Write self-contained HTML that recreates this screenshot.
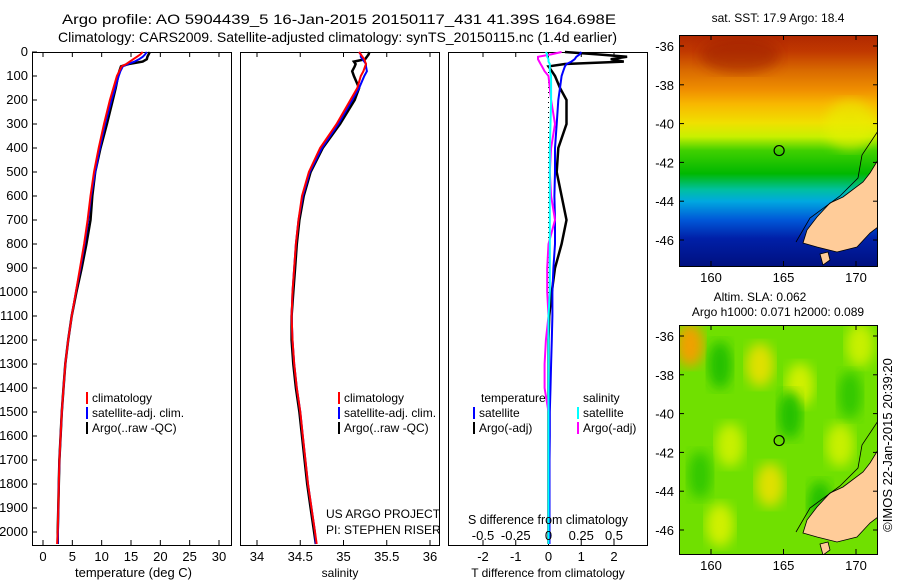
<!DOCTYPE html>
<html><head><meta charset="utf-8">
<style>
html,body{margin:0;padding:0;background:#fff;width:900px;height:580px;overflow:hidden}
svg{display:block;font-family:"Liberation Sans",sans-serif;font-size:12px}
</style></head>
<body>
<svg id="c" width="900" height="580" xmlns="http://www.w3.org/2000/svg">
<defs>
<linearGradient id="sst" x1="0" y1="0" x2="0" y2="1">
<stop offset="0" stop-color="#b02800"/><stop offset="0.07" stop-color="#c03800"/>
<stop offset="0.15" stop-color="#d86800"/><stop offset="0.24" stop-color="#f09000"/>
<stop offset="0.3" stop-color="#f8b800"/><stop offset="0.38" stop-color="#f0e000"/>
<stop offset="0.44" stop-color="#c8f000"/><stop offset="0.5" stop-color="#40d000"/>
<stop offset="0.6" stop-color="#00b800"/><stop offset="0.67" stop-color="#00c0a0"/>
<stop offset="0.72" stop-color="#00a8e0"/><stop offset="0.8" stop-color="#0058d8"/>
<stop offset="0.88" stop-color="#0020a8"/><stop offset="1" stop-color="#001080"/>
</linearGradient>
<filter id="blur"><feGaussianBlur stdDeviation="6"/></filter>
<clipPath id="clipTop"><rect x="679" y="35" width="199" height="231"/></clipPath>
<clipPath id="clipBot"><rect x="679" y="325" width="199" height="229"/></clipPath>
</defs>
<text x="62" y="24" textLength="554" lengthAdjust="spacingAndGlyphs" font-size="14">Argo profile: AO 5904439_5 16-Jan-2015 20150117_431 41.39S 164.698E</text>
<text x="58" y="42" textLength="559" lengthAdjust="spacingAndGlyphs" font-size="14">Climatology: CARS2009. Satellite-adjusted climatology: synTS_20150115.nc (1.4d earlier)</text>
<g id="panels"></g>
</svg>
<script>
// depth levels (m)
const depths = [0,10,20,30,40,50,60,80,100,150,200,300,400,500,600,700,800,900,1000,1100,1200,1300,1400,1500,1600,1700,1800,1900,2000,2050];
// temperature (deg C)
const tempClim = [17.0,16.6,16.0,15.4,14.8,14.2,13.4,13.0,12.6,12.0,11.4,10.4,9.5,8.7,8.1,7.6,7.0,6.3,5.6,4.9,4.3,3.8,3.5,3.2,3.0,2.8,2.7,2.6,2.5,2.4];
const tempSat  = [17.7,17.4,17.0,16.4,15.6,14.5,13.6,13.2,12.9,12.3,11.7,10.6,9.7,8.9,8.2,7.7,7.1,6.4,5.6,4.9,4.3,3.8,3.5,3.2,3.0,2.8,2.7,2.6,2.55,2.5];
const tempArgo = [18.2,18.0,17.8,17.7,17.0,14.6,13.3,13.0,12.8,12.4,11.9,10.9,9.8,8.9,8.4,8.1,7.4,6.6,5.7,4.9,4.3,3.8,3.5,3.2,3.0,2.8,2.7,2.6,2.5,2.5];
// salinity
const salClim = [35.18,35.2,35.22,35.24,35.25,35.26,35.25,35.23,35.2,35.16,35.08,34.92,34.73,34.6,34.52,34.48,34.45,34.43,34.41,34.4,34.41,34.43,34.46,34.5,34.53,34.56,34.59,34.63,34.67,34.69];
const salSat  = [35.18,35.2,35.2,35.22,35.24,35.26,35.26,35.27,35.24,35.18,35.1,34.94,34.75,34.61,34.53,34.48,34.45,34.43,34.41,34.4,34.41,34.43,34.46,34.5,34.53,34.56,34.59,34.63,34.67,34.68];
const salArgo = [35.3,35.29,35.27,35.25,35.12,35.14,35.13,35.1,35.12,35.18,35.13,34.96,34.76,34.62,34.54,34.49,34.46,34.44,34.42,34.4,34.4,34.42,34.45,34.49,34.52,34.55,34.58,34.62,34.66,34.68];
// temperature differences (deg C)
const tdiffSat  = [1.0,0.95,0.85,0.8,0.7,0.55,0.5,0.45,0.4,0.35,0.3,0.25,0.2,0.2,0.18,0.2,0.2,0.15,0.12,0.12,0.1,0.08,0.06,0.04,0.04,0.03,0.03,0.03,0.03,0.03];
const tdiffArgo = [0.5,1.5,2.4,1.9,2.3,0.5,0.0,0.1,0.2,0.35,0.55,0.55,0.3,0.25,0.4,0.55,0.4,0.2,0.1,0.02,0.0,0.0,0.0,0.0,0.0,0.0,0.0,0.0,0.0,0.0];
// salinity differences
const sdiffSat  = [-0.02,-0.01,-0.01,0.0,0.0,0.01,0.01,0.01,0.02,0.02,0.02,0.015,0.01,0.01,0.01,0.01,0.01,0.01,0.01,0.0,0.0,0.0,0.0,0.0,0.0,0.0,0.0,0.0,0.0,0.0];
const sdiffArgo = [0.1,0.02,-0.08,-0.08,-0.07,-0.06,-0.05,-0.03,0.0,0.01,0.02,0.05,0.02,0.01,0.02,0.05,0.0,-0.01,-0.01,0.0,-0.02,-0.03,-0.03,0.0,0.0,0.0,0.0,0.0,0.0,0.0];
// tick labels
const depthTicks = [0,100,200,300,400,500,600,700,800,900,1000,1100,1200,1300,1400,1500,1600,1700,1800,1900,2000];
const tempTicks = [0,5,10,15,20,25,30];
const salTicks = [34,34.5,35,35.5,36];
const tdiffTicks = [-2,-1,0,1,2];
const sdiffTicks = [-0.5,-0.25,0,0.25,0.5];
const latTicks = [-36,-38,-40,-42,-44,-46];
const lonTicks = [160,165,170];

const NS="http://www.w3.org/2000/svg";
const root=document.getElementById('panels');
function mk(tag,attrs,parent,text){const e=document.createElementNS(NS,tag);for(const k in attrs)e.setAttribute(k,attrs[k]);if(text!==undefined)e.textContent=text;(parent||root).appendChild(e);return e;}

const PT=52, PB=545;
const yD = d => PT + d*0.24;
function scale(x0,v0,x1,v1){return v=>x0+(v-v0)*(x1-x0)/(v1-v0);}
const xT = scale(43,0,219,30);
const xS = scale(257,34,430,36);
const xTd = scale(483,-2,614,2);
const xSd = scale(483,-0.5,614,0.5);

function line(vals,xf,color,name,w){
  const pts=vals.map((v,i)=>xf(v).toFixed(1)+','+yD(depths[i]).toFixed(1)).join(' ');
  const p=mk('polyline',{points:pts,fill:'none',stroke:color,'stroke-width':w||2});
  
  
}
function frame(x,name){
  const r=mk('rect',{x:x+0.5,y:PT+0.5,width:199,height:PB-PT,fill:'none',stroke:'#000'});
  
  
}
function xticks(ticks,xf,y,fmt,name){
  ticks.forEach(t=>{
    const x=xf(t);
    mk('line',{x1:x,y1:PB,x2:x,y2:PB-5,stroke:'#000'});
    mk('line',{x1:x,y1:PT,x2:x,y2:PT+5,stroke:'#000'});
    const tx=mk('text',{x:x,y:y,'text-anchor':'middle','font-size':13},root,fmt?fmt(t):String(t));
    
    
  });
}
function label(x,y,s,name,anchor,len){
  const a={x:x,y:y,'text-anchor':anchor||'start'};
  if(len){a.textLength=len;a.lengthAdjust='spacingAndGlyphs';a['font-size']=13;}
  const t=mk('text',a,root,s);
  
  
}
function swatch(x,y,color){mk('rect',{x:x,y:y-10,width:2,height:12,fill:color});}

// panel 1 temperature
frame(32,'temperature-panel');
depthTicks.forEach(d=>{
  mk('line',{x1:32,y1:yD(d),x2:37,y2:yD(d),stroke:'#000'});
  const t=mk('text',{x:28,y:yD(d)+4,'text-anchor':'end','font-size':13},root,String(d));
  
  
});
xticks(tempTicks,xT,561,null,'temperature-tick-label');
label(75,577,'temperature (deg C)','temperature-axis-title','start',117);
line(tempArgo,xT,'#000','temp-argo-line',2.5);
line(tempSat,xT,'#0000ff','temp-satellite-line');
line(tempClim,xT,'#ff0000','temp-climatology-line');
swatch(86,402,'#ff0000');label(92,402,'climatology','legend-climatology');
swatch(86,417,'#0000ff');label(92,417,'satellite-adj. clim.','legend-satellite');
swatch(86,432,'#000');label(92,432,'Argo(..raw -QC)','legend-argo');

// panel 2 salinity
frame(240,'salinity-panel');
xticks(salTicks,xS,561,null,'salinity-tick-label');
label(340,577,'salinity','salinity-axis-title','middle');
line(salArgo,xS,'#000','sal-argo-line',2.5);
line(salSat,xS,'#0000ff','sal-satellite-line');
line(salClim,xS,'#ff0000','sal-climatology-line');
swatch(338,402,'#ff0000');label(344,402,'climatology','legend-climatology-2');
swatch(338,417,'#0000ff');label(344,417,'satellite-adj. clim.','legend-satellite-2');
swatch(338,432,'#000');label(344,432,'Argo(..raw -QC)','legend-argo-2');
label(326,518,'US ARGO PROJECT','project-label');
label(326,534,'PI: STEPHEN RISER','pi-label');

// panel 3 differences
frame(448,'difference-panel');
xticks(tdiffTicks,xTd,561,null,'tdiff-tick-label');
label(548,577,'T difference from climatology','tdiff-axis-title','middle');
mk('line',{x1:xTd(0),y1:PT,x2:xTd(0),y2:PB,stroke:'#000','stroke-dasharray':'1,4'});
line(tdiffArgo,xTd,'#000','tdiff-argo-line',2.5);
line(tdiffSat,xTd,'#0000ff','tdiff-satellite-line');
line(sdiffArgo,xSd,'#ff00ff','sdiff-argo-line');
line(sdiffSat,xSd,'#00ffff','sdiff-satellite-line');
label(468,524,'S difference from climatology','sdiff-axis-title','start',160);
sdiffTicks.forEach(t=>{const s=mk('text',{x:xSd(t),y:540,'text-anchor':'middle','font-size':13},root,String(t));});
label(481,402,'temperature','legend-temperature-head');
label(583,402,'salinity','legend-salinity-head');
swatch(473,417,'#0000ff');label(479,417,'satellite','legend-t-satellite');
swatch(473,432,'#000');label(479,432,'Argo(-adj)','legend-t-argo');
swatch(577,417,'#00ffff');label(583,417,'satellite','legend-s-satellite');
swatch(577,432,'#ff00ff');label(583,432,'Argo(-adj)','legend-s-argo');

// maps
function map(top,bottom,isSST,name){
  const g=mk('g',{'clip-path':isSST?'url(#clipTop)':'url(#clipBot)'});
  
  
  const lat=v=>top+11+(-36-v)*19.4;
  const lon=v=>711+(v-160)*14.5;
  if(isSST){
    mk('rect',{x:679,y:top,width:199,height:bottom-top,fill:'url(#sst)'},g);
    mk('ellipse',{cx:850,cy:top+90,rx:25,ry:25,fill:'#e8f000',opacity:0.6,filter:'url(#blur)'},g);
    mk('ellipse',{cx:740,cy:top+20,rx:40,ry:18,fill:'#a02000',opacity:0.6,filter:'url(#blur)'},g);
  } else {
    mk('rect',{x:679,y:top,width:199,height:bottom-top,fill:'#70e000'},g);
    [[690,top+20,'#f0a000'],[760,top+40,'#e0e000'],[730,top+120,'#c8f000'],[800,top+60,'#d0f000'],[770,top+160,'#e0e000'],[860,top+20,'#c8f000'],[720,top+200,'#d0f000'],[840,top+120,'#c8f000']].forEach(b=>mk('ellipse',{cx:b[0],cy:b[1],rx:14,ry:22,fill:b[2],filter:'url(#blur)'},g));
    [[720,top+40,'#20c000'],[790,top+90,'#20c000'],[700,top+150,'#30c800'],[820,top+180,'#20c000'],[850,top+70,'#30c800']].forEach(b=>mk('ellipse',{cx:b[0],cy:b[1],rx:12,ry:24,fill:b[2],filter:'url(#blur)'},g));
  }
  const o=top-35;
  mk('polygon',{points:[[878,160],[870,173],[863,182],[843,197],[830,203],[817,217],[807,230],[803,243],[817,247],[837,252],[857,247],[870,233],[878,227]].map(p=>p[0]+','+(p[1]+o)).join(' '),fill:'#ffcc99',stroke:'#000','stroke-width':0.8},g);
  mk('polygon',{points:[[820,254],[828,252],[830,260],[823,265]].map(p=>p[0]+','+(p[1]+o)).join(' '),fill:'#ffcc99',stroke:'#000','stroke-width':0.8},g);
  mk('polyline',{points:[[878,131],[862,155],[858,178],[840,196],[810,218],[796,242]].map(p=>p[0]+','+(p[1]+o)).join(' '),fill:'none',stroke:'#000','stroke-width':0.8},g);
  mk('rect',{x:679.5,y:top+0.5,width:198,height:bottom-top,fill:'none',stroke:'#000'});
  latTicks.forEach(v=>{
    mk('line',{x1:679,y1:lat(v),x2:684,y2:lat(v),stroke:'#000'});
    mk('line',{x1:878,y1:lat(v),x2:873,y2:lat(v),stroke:'#000'});
    const t=mk('text',{x:674,y:lat(v)+5,'text-anchor':'end','font-size':13},root,String(v));
    
    
  });
  lonTicks.forEach(v=>{
    mk('line',{x1:lon(v),y1:top,x2:lon(v),y2:top+5,stroke:'#000'});
    mk('line',{x1:lon(v),y1:bottom,x2:lon(v),y2:bottom-5,stroke:'#000'});
    const t=mk('text',{x:lon(v),y:bottom+16,'text-anchor':'middle','font-size':13},root,String(v));
    
    
  });
  const c=mk('circle',{cx:lon(164.698),cy:lat(-41.39),r:5,fill:'none',stroke:'#000','stroke-width':1.2});
  
  
}
map(35,266,true,'sst-map');
map(325,554,false,'sla-map');
label(778,22,'sat. SST: 17.9 Argo: 18.4','sst-map-title','middle');
label(760,301,'Altim. SLA: 0.062','sla-map-title','middle');
label(778,316,'Argo h1000: 0.071 h2000: 0.089','argo-height-label','middle');
const cr=mk('text',{x:0,y:0,'text-anchor':'middle','font-size':13,transform:'translate(892,445) rotate(-90)'},root,'©IMOS 22-Jan-2015 20:39:20');


</script>
</body></html>
